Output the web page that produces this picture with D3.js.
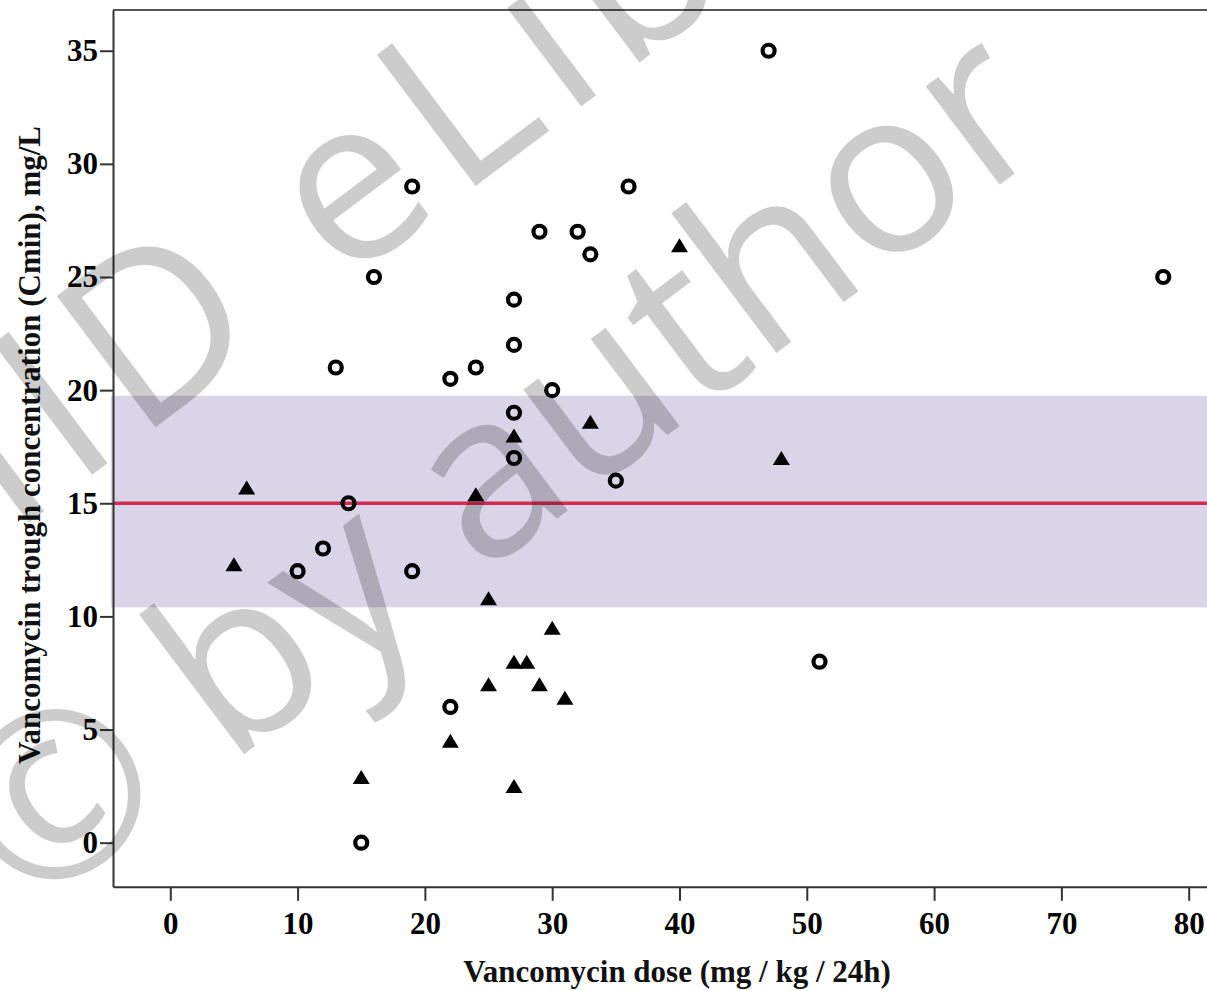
<!DOCTYPE html>
<html>
<head>
<meta charset="utf-8">
<style>
    body { margin: 0; background: #fff; }
    .tick text { font-family: "Liberation Serif", "Times New Roman", serif; font-weight: bold; font-size: 31px; fill: #000; }
    .axis path, .axis line { stroke: #333; stroke-width: 2; }
    .title { font-family: "Liberation Serif", "Times New Roman", serif; font-weight: bold; font-size: 31px; fill: #111; }
    .wm { font-family: "Open Sans", sans-serif; font-size: 230px; fill: #000; fill-opacity: 0.2; }
</style>
<script src="https://cdn.jsdelivr.net/npm/d3@7"></script>
</head>
<body>
<div id="chart"></div>
<script>
    // open circles
    let circleDose = [47, 19, 36, 29, 32, 33, 16, 78, 27, 27, 13, 24, 22, 30, 27, 27, 35, 14, 12, 10, 19, 51, 22, 15];
    let circleConc = [35, 29, 29, 27, 27, 26, 25, 25, 24, 22, 21, 21, 20.5, 20, 19, 17, 16, 15, 13, 12, 12, 8, 6, 0];
    // filled triangles
    let triDose = [6, 5, 15, 22, 24, 25, 25, 27, 27, 28, 27, 29, 30, 31, 33, 40, 48];
    let triConc = [15.7, 12.3, 2.9, 4.5, 15.4, 10.8, 7.0, 18.0, 8.0, 8.0, 2.5, 7.0, 9.5, 6.4, 18.6, 26.4, 17.0];
    // target range and reference line
    let bandRange = [10.4, 19.75];
    let refLine = 15;
    let xTicks = [0, 10, 20, 30, 40, 50, 60, 70, 80];
    let yTicks = [0, 5, 10, 15, 20, 25, 30, 35];
    let xLabel = "Vancomycin dose (mg / kg / 24h)";
    let yLabel = "Vancomycin trough concentration (Cmin), mg/L";
    let watermark = ["IID eLibrary", "\u00a9 by author"];

    let width = 1207, height = 991;
    let margin = { top: 10, left: 113 };
    let svg = d3.select("#chart").append("svg")
        .attr("width", width).attr("height", height);

    let xScale = d3.scaleLinear().domain([-4.5, 82]).range([margin.left, margin.left + 86.5 * 12.73]);
    let yScale = d3.scaleLinear().domain([-1.95, 36.8]).range([886.8, margin.top]);
    let x0 = xScale.range()[0], x1 = xScale.range()[1];
    let yb = yScale.range()[0], yt = yScale.range()[1];

    // reference band
    svg.append("rect")
        .attr("x", x0 - 2)
        .attr("y", yScale(bandRange[1]))
        .attr("width", x1 - x0 + 2)
        .attr("height", yScale(bandRange[0]) - yScale(bandRange[1]))
        .attr("fill", "#d9d4e8");

    svg.append("line")
        .attr("x1", x0).attr("x2", x1)
        .attr("y1", yScale(refLine)).attr("y2", yScale(refLine))
        .attr("stroke", "#d42c4e").attr("stroke-width", 3.5);

    // frame top
    svg.append("line")
        .attr("x1", x0).attr("x2", x1).attr("y1", yt).attr("y2", yt)
        .attr("stroke", "#555").attr("stroke-width", 2);

    let xAxis = d3.axisBottom(xScale).tickValues(xTicks).tickSize(14).tickPadding(11).tickSizeOuter(0);
    svg.append("g").attr("class", "axis")
        .attr("transform", "translate(0," + yb + ")")
        .call(xAxis);

    let yAxis = d3.axisLeft(yScale).tickValues(yTicks).tickSize(13).tickPadding(2).tickSizeOuter(0);
    svg.append("g").attr("class", "axis")
        .attr("transform", "translate(" + x0 + ",0)")
        .call(yAxis);

    // points
    let circles = circleDose.map((d, i) => ({ x: d, y: circleConc[i] }));
    let tris = triDose.map((d, i) => ({ x: d, y: triConc[i] }));

    svg.append("g").selectAll("circle")
        .data(circles).enter().append("circle")
        .attr("cx", d => xScale(d.x))
        .attr("cy", d => yScale(d.y))
        .attr("r", 6)
        .attr("fill", "none")
        .attr("stroke", "#000")
        .attr("stroke-width", 4.2);

    let s = 17, h = 14;
    svg.append("g").selectAll("path")
        .data(tris).enter().append("path")
        .attr("d", "M0," + (-h / 2) + "L" + (s / 2) + "," + (h / 2) + "L" + (-s / 2) + "," + (h / 2) + "Z")
        .attr("transform", d => "translate(" + xScale(d.x) + "," + yScale(d.y) + ")")
        .attr("fill", "#000");

    // titles
    svg.append("text").attr("class", "title")
        .attr("x", 677).attr("y", 982)
        .attr("text-anchor", "middle")
        .text(xLabel);

    svg.append("text").attr("class", "title")
        .attr("transform", "translate(40,445) rotate(-90)")
        .attr("text-anchor", "middle")
        .text(yLabel);

    // watermark
    svg.append("text").attr("class", "wm")
        .attr("transform", "translate(11,536) rotate(-37)")
        .attr("letter-spacing", 15)
        .text(watermark[0]);
    svg.append("text").attr("class", "wm")
        .attr("transform", "translate(28,917) rotate(-37)")
        .text(watermark[1]);
</script>
</body>
</html>
